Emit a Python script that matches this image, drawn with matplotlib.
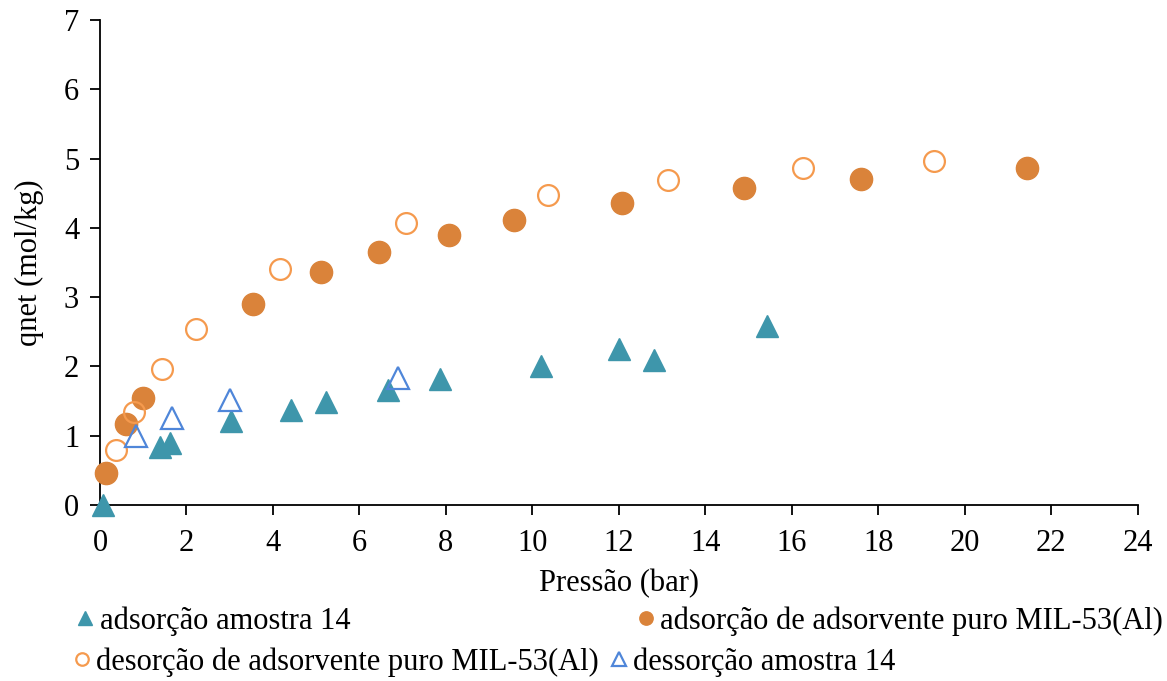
import matplotlib
matplotlib.use("Agg")
import matplotlib.pyplot as plt

plt.rcParams['font.family'] = ['Liberation Serif', 'DejaVu Serif']

# Data
ads14_x = [0.07, 1.39, 1.62, 3.03, 4.42, 5.23, 6.66, 7.86, 10.2, 12.0, 12.8, 15.42]
ads14_y = [0.0, 0.84, 0.90, 1.21, 1.37, 1.48, 1.66, 1.82, 2.0, 2.25, 2.1, 2.58]

des14_x = [0.83, 1.66, 3.0, 6.89]
des14_y = [1.0, 1.26, 1.52, 1.84]

adsmil_x = [0.14, 0.6, 0.99, 3.54, 5.11, 6.45, 8.07, 9.57, 12.07, 14.9, 17.6, 21.43]
adsmil_y = [0.46, 1.17, 1.55, 2.9, 3.36, 3.65, 3.9, 4.11, 4.36, 4.57, 4.71, 4.86]

desmil_x = [0.37, 0.79, 1.43, 2.22, 4.16, 7.08, 10.36, 13.13, 16.25, 19.28]
desmil_y = [0.8, 1.34, 1.97, 2.54, 3.41, 4.07, 4.48, 4.69, 4.86, 4.97]

labels = ["adsorção amostra 14",
          "adsorção de adsorvente puro MIL-53(Al)",
          "desorção de adsorvente puro MIL-53(Al)",
          "dessorção amostra 14"]

teal = "#3E96AB"
orange = "#DA833A"
orange_l = "#F59A4E"
blue = "#4F86D9"

fs = 22

fig = plt.figure(figsize=(11.67, 6.81), dpi=100)
ax = fig.add_axes([0.0857, 0.2584, 0.975 - 0.0857, 0.9706 - 0.2584])

h1, = ax.plot(ads14_x, ads14_y, linestyle='none', marker='^', ms=16,
              color=teal, mec=teal, clip_on=False, zorder=3)
h2, = ax.plot(adsmil_x, adsmil_y, linestyle='none', marker='o', ms=16,
              color=orange, mec=orange, clip_on=False, zorder=3)
h3, = ax.plot(desmil_x, desmil_y, linestyle='none', marker='o', ms=15,
              mfc='none', mec=orange_l, mew=1.6, clip_on=False, zorder=3)
h4, = ax.plot(des14_x, des14_y, linestyle='none', marker='^', ms=16,
              mfc='none', mec=blue, mew=1.6, clip_on=False, zorder=3)

ax.set_xlim(0, 24)
ax.set_ylim(0, 7)
ax.set_xticks(range(0, 25, 2))
ax.set_yticks(range(0, 8))
for s in ['top', 'right']:
    ax.spines[s].set_visible(False)
for s in ['left', 'bottom']:
    ax.spines[s].set_linewidth(1.3)
ax.tick_params(direction='out', length=7, width=1.3, labelsize=fs)
ax.tick_params(axis='x', pad=10)
ax.tick_params(axis='y', pad=8)
ax.set_xlabel("Pressão (bar)", fontsize=fs, labelpad=8)
ax.set_ylabel("qnet (mol/kg)", fontsize=fs, labelpad=14)

entries = [
    (h1, labels[0], 0.066, 0.088),
    (h2, labels[1], 0.546, 0.088),
    (h3, labels[2], 0.063, 0.028),
    (h4, labels[3], 0.523, 0.028),
]
for h, lab, x, y in entries:
    leg = fig.legend([h], [lab], loc='center left', bbox_to_anchor=(x, y),
                     frameon=False, fontsize=fs, handlelength=0.55,
                     handletextpad=0.2, borderpad=0, borderaxespad=0,
                     markerscale=0.6)

fig.savefig("out.png", dpi=100)
